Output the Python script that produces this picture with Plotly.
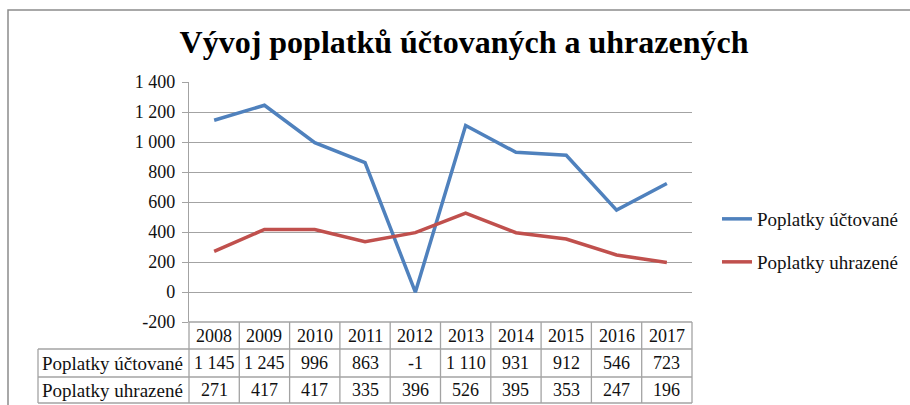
import plotly.graph_objects as go

years = ["2008", "2009", "2010", "2011", "2012", "2013", "2014", "2015", "2016", "2017"]
uctovane = [1145, 1245, 996, 863, -1, 1110, 931, 912, 546, 723]
uhrazene = [271, 417, 417, 335, 396, 526, 395, 353, 247, 196]
series_names = ["Poplatky účtované", "Poplatky uhrazené"]
y_ticks = [-200, 0, 200, 400, 600, 800, 1000, 1200, 1400]
title_text = "Vývoj poplatků účtovaných a uhrazených"

BLUE = "#4F81BD"
RED = "#C0504D"
GRID = "#a3a3a3"
FONT = "Liberation Serif, Times New Roman, serif"
TXT = "#111111"

WIDTH, HEIGHT = 910, 405
L, R, T, B = 189, 692, 82, 322
PW, PH = R - L, B - T


def px_x(p):
    return (p - L) / PW


def px_y(p):
    return (B - p) / PH


def fmt(v):
    return f"{v:,}".replace(",", " ")


fig = go.Figure()
fig.add_trace(go.Scatter(x=list(range(len(years))), y=uctovane, mode="lines",
                         name=series_names[0], line=dict(color=BLUE, width=3.5),
                         legend="legend"))
fig.add_trace(go.Scatter(x=list(range(len(years))), y=uhrazene, mode="lines",
                         name=series_names[1], line=dict(color=RED, width=3.5),
                         legend="legend2"))

shapes = []
line_style = dict(color=GRID, width=1.3)
n = len(years)
y_head_top, y_r1, y_r2, y_bot = 322, 349, 377, 403
x_lab = 38
for k in range(n + 1):
    shapes.append(dict(type="line", xref="paper", yref="paper",
                       x0=k / n, x1=k / n, y0=px_y(y_head_top), y1=px_y(y_bot),
                       line=line_style))
shapes.append(dict(type="line", xref="paper", yref="paper",
                   x0=px_x(x_lab), x1=px_x(x_lab), y0=px_y(y_r1), y1=px_y(y_bot),
                   line=line_style))
shapes.append(dict(type="line", xref="paper", yref="paper",
                   x0=0, x1=1, y0=px_y(y_head_top), y1=px_y(y_head_top), line=line_style))
for yy in (y_r1, y_r2, y_bot):
    shapes.append(dict(type="line", xref="paper", yref="paper",
                       x0=px_x(x_lab), x1=1, y0=px_y(yy), y1=px_y(yy), line=line_style))
shapes.append(dict(type="path", xref="paper", yref="paper",
                   path=f"M {px_x(8)} {px_y(410)} L {px_x(8)} {px_y(10)} L {px_x(912)} {px_y(10)}",
                   line=dict(color="#8c8c8c", width=1.5)))

annotations = []
num_font = dict(family=FONT, size=18, color=TXT)
lab_font = dict(family=FONT, size=19, color=TXT)
for i, yr in enumerate(years):
    annotations.append(dict(x=i, xref="x", y=px_y((y_head_top + y_r1) / 2 + 0.5), yref="paper",
                            text=yr, showarrow=False, font=num_font,
                            xanchor="center", yanchor="middle"))
    annotations.append(dict(x=i, xref="x", y=px_y((y_r1 + y_r2) / 2), yref="paper",
                            text=fmt(uctovane[i]), showarrow=False, font=num_font,
                            xanchor="center", yanchor="middle"))
    annotations.append(dict(x=i, xref="x", y=px_y((y_r2 + y_bot) / 2), yref="paper",
                            text=fmt(uhrazene[i]), showarrow=False, font=num_font,
                            xanchor="center", yanchor="middle"))
for name, (a, b) in zip(series_names, [(y_r1, y_r2), (y_r2, y_bot)]):
    annotations.append(dict(x=px_x(x_lab + 2), xref="paper", y=px_y((a + b) / 2), yref="paper",
                            text=name, showarrow=False, xanchor="left", yanchor="middle",
                            font=lab_font))

legend_common = dict(font=dict(family=FONT, size=19, color=TXT), bgcolor="rgba(0,0,0,0)",
                     xanchor="left", yanchor="middle", x=px_x(717))

fig.update_layout(
    width=WIDTH, height=HEIGHT, autosize=False,
    margin=dict(l=L, r=WIDTH - R, t=T, b=HEIGHT - B, pad=0, autoexpand=False),
    paper_bgcolor="white", plot_bgcolor="white",
    separators=", ",
    font=dict(family=FONT, color=TXT),
    title=dict(text=title_text, x=464 / WIDTH, xref="container", xanchor="center",
               y=1 - 42 / HEIGHT, yref="container", yanchor="middle",
               font=dict(family=FONT, size=32, color="#000000", weight="bold")),
    xaxis=dict(range=[-0.5, n - 0.5], showticklabels=False, showgrid=False,
               zeroline=False, showline=False, ticks=""),
    yaxis=dict(range=[-200, 1400], tickvals=y_ticks, ticktext=[fmt(v) for v in y_ticks],
               showgrid=True, gridcolor=GRID, gridwidth=1.3, zeroline=False,
               showline=True, linecolor=GRID, linewidth=1.3,
               ticks="outside", ticklen=6, tickcolor=GRID, tickwidth=1.3,
               ticklabelstandoff=3,
               tickfont=dict(family=FONT, size=18, color=TXT)),
    legend=dict(**legend_common, y=px_y(219)),
    legend2=dict(**legend_common, y=px_y(262)),
    shapes=shapes,
    annotations=annotations,
    showlegend=True,
)

fig.write_html("out.html", config={"displayModeBar": False},
               post_script="document.body.style.margin='0';document.body.style.padding='0';")
